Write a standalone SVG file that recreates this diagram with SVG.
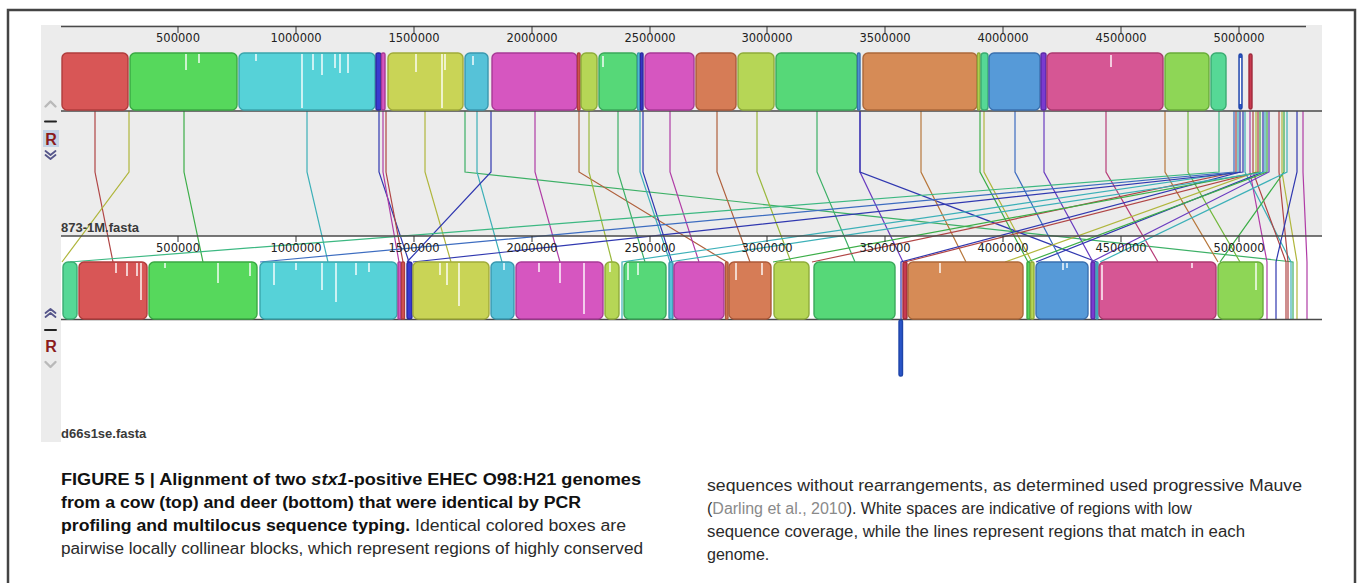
<svg xmlns="http://www.w3.org/2000/svg" width="1360" height="583" viewBox="0 0 1360 583">
  <style>
    .ax { stroke: #4a4a4a; stroke-width: 1.5; fill: none; }
    .tick { stroke: #333; stroke-width: 1; }
    .tl { font-family: "DejaVu Sans", sans-serif; font-size: 11.5px; fill: #222; text-anchor: middle; }
    .name { font-family: "Liberation Sans", Arial, sans-serif; font-size: 13px; font-weight: bold; fill: #3a3a3a; }
    .blk { stroke-width: 1.4; }
    .wht { stroke: #ffffff; stroke-width: 1.4; }
    .cap { font-family: "Liberation Sans", Arial, sans-serif; font-size: 16px; fill: #2a2a2a; }
    .b { font-weight: bold; fill: #111; }
    .lnk { fill: #8a8a8a; }
    #connectors path { fill: none; stroke-width: 1.2; }
    .red { fill: #d85656; stroke: #b03c3c; }
    .grn { fill: #56d85c; stroke: #3aa843; }
    .cyn { fill: #56d2d8; stroke: #3aa5ac; }
    .olv { fill: #c9d456; stroke: #a0aa3a; }
    .cy2 { fill: #56c2d8; stroke: #3a98ae; }
    .mag { fill: #d656c0; stroke: #a83a96; }
    .lim { fill: #b6d656; stroke: #8eac3a; }
    .gr2 { fill: #56d878; stroke: #3aa85a; }
    .brn { fill: #d67c56; stroke: #ac5a3a; }
    .org { fill: #d68b56; stroke: #ac683a; }
    .blu { fill: #569ad8; stroke: #3a70ae; }
    .pnk { fill: #d65694; stroke: #ac3a70; }
    .lgr { fill: #8ed656; stroke: #68ac3a; }
    .tgr { fill: #56d896; stroke: #3aac72; }
    .nav { fill: #3a3ad0; stroke: #2a2aa0; }
    .pur { fill: #7a3ad0; stroke: #5a2aa8; }
    .dbl { fill: #2a55c8; stroke: #1e44a8; }
    .rdk { fill: #c83a50; stroke: #a02a3c; }
    .s-red { stroke: #b04545; }
    .s-grn { stroke: #3cae48; }
    .s-cyn { stroke: #3cb0b8; }
    .s-olv { stroke: #b0b63c; }
    .s-mag { stroke: #b03ca6; }
    .s-lim { stroke: #9ab83c; }
    .s-gr2 { stroke: #3cb066; }
    .s-brn { stroke: #b0603c; }
    .s-org { stroke: #b8783c; }
    .s-blu { stroke: #3c6cc0; }
    .s-pnk { stroke: #b83c78; }
    .s-lgr { stroke: #72b83c; }
    .s-tgr { stroke: #3cb882; }
    .s-nav { stroke: #3038b0; }
    .s-pur { stroke: #6a3cc0; }
  </style>

  <!-- page background -->
  <rect x="0" y="0" width="1360" height="583" fill="#ffffff"/>

  <!-- panel backgrounds -->
  <rect x="41" y="25" width="1281" height="211" fill="#ececec"/>
  <rect x="41" y="236" width="20" height="206" fill="#ececec"/>

  <!-- genome 1 axis -->
  <g id="axis-top">
    <line class="ax" x1="61" y1="26.5" x2="1306" y2="26.5"/>
    <g class="tick">
      <line x1="178" y1="26" x2="178" y2="33"/><line x1="296" y1="26" x2="296" y2="33"/>
      <line x1="414" y1="26" x2="414" y2="33"/><line x1="532" y1="26" x2="532" y2="33"/>
      <line x1="650" y1="26" x2="650" y2="33"/><line x1="767" y1="26" x2="767" y2="33"/>
      <line x1="885" y1="26" x2="885" y2="33"/><line x1="1003" y1="26" x2="1003" y2="33"/>
      <line x1="1121" y1="26" x2="1121" y2="33"/><line x1="1239" y1="26" x2="1239" y2="33"/>
    </g>
    <text class="tl" x="178" y="42">500000</text><text class="tl" x="296" y="42">1000000</text>
    <text class="tl" x="414" y="42">1500000</text><text class="tl" x="532" y="42">2000000</text>
    <text class="tl" x="650" y="42">2500000</text><text class="tl" x="767" y="42">3000000</text>
    <text class="tl" x="885" y="42">3500000</text><text class="tl" x="1003" y="42">4000000</text>
    <text class="tl" x="1121" y="42">4500000</text><text class="tl" x="1239" y="42">5000000</text>
  </g>

  <!-- connectors between collinear blocks -->
  <g id="connectors">
    <path class="s-red" d="M95 111V172L113 262"/>
    <path class="s-olv" d="M129 111V172L62 262"/>
    <path class="s-grn" d="M184 111V172L203 262"/>
    <path class="s-cyn" d="M307 111V172L328 262"/>
    <path class="s-nav" d="M379 111V172L409 262"/>
    <path class="s-mag" d="M383 111V172L399 262"/>
    <path class="s-red" d="M386 111V172L403 262"/>
    <path class="s-olv" d="M425 111V172L451 262"/>
    <path class="s-gr2" d="M465 111V172L1293 262V319"/>
    <path class="s-cyn" d="M477 111V172L502 262"/>
    <path class="s-nav" d="M491 111V172L407 262"/>
    <path class="s-mag" d="M535 111V172L560 262"/>
    <path class="s-brn" d="M579 111V172L727 262"/>
    <path class="s-lim" d="M589 111V172L612 262"/>
    <path class="s-gr2" d="M618 111V172L645 262"/>
    <path class="s-cyn" d="M640 111V172L670 262"/>
    <path class="s-nav" d="M643 111V172L672 262"/>
    <path class="s-mag" d="M670 111V172L699 262"/>
    <path class="s-brn" d="M717 111V172L750 262"/>
    <path class="s-lim" d="M757 111V172L791 262"/>
    <path class="s-gr2" d="M817 111V172L855 262"/>
    <path class="s-pur" d="M860 111V172L903 262"/>
    <path class="s-nav" d="M860 111V172L1097 262"/>
    <path class="s-org" d="M921 111V172L966 262"/>
    <path class="s-grn" d="M980 111V172L1028 262"/>
    <path class="s-olv" d="M984 111V172L1032 262"/>
    <path class="s-blu" d="M1015 111V172L1062 262"/>
    <path class="s-pur" d="M1044 111V172L1093 262"/>
    <path class="s-pnk" d="M1106 111V172L1158 262"/>
    <path class="s-org" d="M1165 111V172L1218 262"/>
    <path class="s-lgr" d="M1188 111V172L1240 262"/>
    <path class="s-tgr" d="M1219 111V172L70 262"/>
    <path class="s-blu" d="M1234 111V172L260 262"/>
    <path class="s-red" d="M1236 111V172L812 262"/>
    <path class="s-cyn" d="M1238 111V172L622 262V319"/>
    <path class="s-nav" d="M1240 111V172L901 262V319"/>
    <path class="s-nav" d="M1243 111V172L413 262"/>
    <path class="s-cyn" d="M1245 111V172L1291 262V319"/>
    <path class="s-mag" d="M1250 111V172L1267 262V319"/>
    <path class="s-red" d="M1253 111V172L1286 262V319"/>
    <path class="s-olv" d="M1256 111V172L1005 262"/>
    <path class="s-red" d="M1258 111V172L905 262"/>
    <path class="s-grn" d="M1260 111V172L773 262"/>
    <path class="s-nav" d="M1263 111V172L1036 262"/>
    <path class="s-cyn" d="M1265 111V172L669 262"/>
    <path class="s-grn" d="M1267 111V172L1027 262"/>
    <path class="s-pur" d="M1269 111V172L1091 262"/>
    <path class="s-red" d="M1279 111V172L1288 262V319"/>
    <path class="s-olv" d="M1282 111V172L1297 262V319"/>
    <path class="s-grn" d="M1284 111V172L1220 262"/>
    <path class="s-cyn" d="M1287 111V172L1100 262"/>
    <path class="s-nav" d="M1297 111V172L1276 262V319"/>
    <path class="s-mag" d="M1303 111V172L1307 262V319"/>
  </g>

  <!-- genome 1 blocks -->
  <g id="genome-873-1M">
    <line class="ax" x1="61" y1="111" x2="1322" y2="111"/>
    <rect class="blk red" x="62" y="53" width="66" height="57" rx="5"/>
    <rect class="blk grn" x="130" y="53" width="107" height="57" rx="5"/>
    <rect class="blk cyn" x="239" y="53" width="136" height="57" rx="5"/>
    <rect class="blk nav" x="376" y="53" width="5" height="57" rx="2"/>
    <rect class="blk mag" x="381.5" y="53" width="3.5" height="57" rx="1.5"/>
    <rect class="blk olv" x="388" y="53" width="75" height="57" rx="5"/>
    <rect class="blk cy2" x="465" y="53" width="23" height="57" rx="5"/>
    <rect class="blk mag" x="492" y="53" width="85" height="57" rx="5"/>
    <rect class="blk red" x="577.5" y="53" width="2.5" height="57" rx="1"/>
    <rect class="blk lim" x="581" y="53" width="16" height="57" rx="5"/>
    <rect class="blk gr2" x="599" y="53" width="38" height="57" rx="5"/>
    <rect class="blk cy2" x="637.5" y="53" width="2.5" height="57" rx="1"/>
    <rect class="blk nav" x="640.5" y="53" width="2.5" height="57" rx="1"/>
    <rect class="blk mag" x="645" y="53" width="49" height="57" rx="5"/>
    <rect class="blk brn" x="696" y="53" width="40" height="57" rx="5"/>
    <rect class="blk lim" x="738" y="53" width="36" height="57" rx="5"/>
    <rect class="blk gr2" x="776" y="53" width="81" height="57" rx="5"/>
    <rect class="blk blu" x="857.5" y="53" width="2.5" height="57" rx="1"/>
    <rect class="blk org" x="863" y="53" width="114" height="57" rx="5"/>
    <rect class="blk lim" x="977.5" y="53" width="2.5" height="57" rx="1"/>
    <rect class="blk tgr" x="981" y="53" width="7" height="57" rx="3"/>
    <rect class="blk blu" x="989" y="53" width="51" height="57" rx="5"/>
    <rect class="blk pur" x="1041" y="53" width="5" height="57" rx="2"/>
    <rect class="blk pnk" x="1047" y="53" width="116" height="57" rx="5"/>
    <rect class="blk lgr" x="1165" y="53" width="44" height="57" rx="5"/>
    <rect class="blk tgr" x="1211" y="53" width="15" height="57" rx="5"/>
    <rect class="blk dbl" x="1239" y="54" width="3" height="55" rx="1.5"/>
    <rect class="blk rdk" x="1249" y="54" width="3" height="55" rx="1.5"/>
    <g class="wht">
      <line x1="186" y1="54" x2="186" y2="70"/><line x1="199" y1="54" x2="199" y2="63"/>
      <line x1="256" y1="54" x2="256" y2="61"/><line x1="302" y1="54" x2="302" y2="108"/>
      <line x1="313" y1="54" x2="313" y2="70"/><line x1="322" y1="54" x2="322" y2="75"/>
      <line x1="335" y1="54" x2="335" y2="68"/><line x1="340" y1="54" x2="340" y2="73"/>
      <line x1="348" y1="54" x2="348" y2="73"/><line x1="416" y1="54" x2="416" y2="72"/>
      <line x1="442" y1="54" x2="442" y2="108"/><line x1="445" y1="54" x2="445" y2="70"/>
      <line x1="473" y1="56" x2="473" y2="65"/><line x1="603" y1="56" x2="603" y2="67"/>
      <line x1="1111" y1="55" x2="1111" y2="67"/><line x1="1240.5" y1="58" x2="1240.5" y2="104"/>
    </g>
  </g>

  <!-- genome 2 axis -->
  <g id="axis-bottom">
    <line class="ax" x1="61" y1="236" x2="1322" y2="236"/>
    <g class="tick">
      <line x1="178" y1="236" x2="178" y2="242"/><line x1="296" y1="236" x2="296" y2="242"/>
      <line x1="414" y1="236" x2="414" y2="242"/><line x1="532" y1="236" x2="532" y2="242"/>
      <line x1="650" y1="236" x2="650" y2="242"/><line x1="767" y1="236" x2="767" y2="242"/>
      <line x1="885" y1="236" x2="885" y2="242"/><line x1="1003" y1="236" x2="1003" y2="242"/>
      <line x1="1121" y1="236" x2="1121" y2="242"/><line x1="1239" y1="236" x2="1239" y2="242"/>
    </g>
    <text class="tl" x="178" y="252">500000</text><text class="tl" x="296" y="252">1000000</text>
    <text class="tl" x="414" y="252">1500000</text><text class="tl" x="532" y="252">2000000</text>
    <text class="tl" x="650" y="252">2500000</text><text class="tl" x="767" y="252">3000000</text>
    <text class="tl" x="885" y="252">3500000</text><text class="tl" x="1003" y="252">4000000</text>
    <text class="tl" x="1121" y="252">4500000</text><text class="tl" x="1239" y="252">5000000</text>
  </g>

  <!-- genome 2 blocks -->
  <g id="genome-d66s1se">
    <line class="ax" x1="61" y1="319.5" x2="1322" y2="319.5"/>
    <rect class="blk tgr" x="63" y="262" width="14" height="57" rx="5"/>
    <rect class="blk red" x="79" y="262" width="68" height="57" rx="5"/>
    <rect class="blk grn" x="149" y="262" width="108" height="57" rx="5"/>
    <rect class="blk cyn" x="260" y="262" width="137" height="57" rx="5"/>
    <rect class="blk mag" x="398" y="262" width="3" height="57" rx="1"/>
    <rect class="blk red" x="401.5" y="262" width="3" height="57" rx="1"/>
    <rect class="blk nav" x="407" y="262" width="5" height="57" rx="2.5"/>
    <rect class="blk olv" x="413" y="262" width="76" height="57" rx="5"/>
    <rect class="blk cy2" x="491" y="262" width="23" height="57" rx="5"/>
    <rect class="blk mag" x="516" y="262" width="87" height="57" rx="5"/>
    <rect class="blk lim" x="605" y="262" width="14" height="57" rx="5"/>
    <rect class="blk gr2" x="624" y="262" width="42" height="57" rx="5"/>
    <rect class="blk cy2" x="669" y="262" width="4" height="57" rx="2"/>
    <rect class="blk mag" x="674" y="262" width="50" height="57" rx="5"/>
    <rect class="blk brn" x="725.5" y="262" width="2.5" height="57" rx="1"/>
    <rect class="blk brn" x="729" y="262" width="42" height="57" rx="5"/>
    <rect class="blk lim" x="774" y="262" width="35" height="57" rx="5"/>
    <rect class="blk gr2" x="814" y="262" width="81" height="57" rx="5"/>
    <rect class="blk dbl" x="899" y="320" width="3.5" height="56" rx="1.5"/>
    <rect class="blk rdk" x="903" y="262" width="4" height="57" rx="2"/>
    <rect class="blk org" x="908" y="262" width="115" height="57" rx="5"/>
    <rect class="blk grn" x="1027" y="262" width="3" height="57" rx="1"/>
    <rect class="blk lim" x="1030.5" y="262" width="3.5" height="57" rx="1.5"/>
    <rect class="blk blu" x="1036" y="262" width="52" height="57" rx="5"/>
    <rect class="blk pur" x="1091" y="262" width="4" height="57" rx="2"/>
    <rect class="blk cy2" x="1096" y="262" width="2" height="57" rx="1"/>
    <rect class="blk pnk" x="1099" y="262" width="117" height="57" rx="5"/>
    <rect class="blk lgr" x="1218" y="262" width="45" height="57" rx="5"/>
    <g class="wht">
      <line x1="116" y1="263" x2="116" y2="273"/><line x1="127" y1="263" x2="127" y2="276"/>
      <line x1="137" y1="263" x2="137" y2="276"/><line x1="141" y1="263" x2="141" y2="300"/>
      <line x1="165" y1="263" x2="165" y2="268"/><line x1="218" y1="263" x2="218" y2="283"/>
      <line x1="250" y1="263" x2="250" y2="276"/><line x1="274" y1="263" x2="274" y2="285"/>
      <line x1="296" y1="263" x2="296" y2="270"/><line x1="322" y1="263" x2="322" y2="290"/>
      <line x1="336" y1="263" x2="336" y2="302"/><line x1="356" y1="263" x2="356" y2="275"/>
      <line x1="369" y1="263" x2="369" y2="272"/><line x1="440" y1="263" x2="440" y2="275"/>
      <line x1="447" y1="263" x2="447" y2="285"/><line x1="459" y1="263" x2="459" y2="306"/>
      <line x1="504" y1="263" x2="504" y2="270"/><line x1="539" y1="263" x2="539" y2="272"/>
      <line x1="560" y1="263" x2="560" y2="283"/><line x1="584" y1="263" x2="584" y2="314"/>
      <line x1="610" y1="263" x2="610" y2="272"/><line x1="628" y1="263" x2="628" y2="280"/>
      <line x1="638" y1="263" x2="638" y2="275"/><line x1="736" y1="263" x2="736" y2="280"/>
      <line x1="762" y1="263" x2="762" y2="275"/><line x1="940" y1="263" x2="940" y2="273"/>
      <line x1="1063" y1="263" x2="1063" y2="270"/><line x1="1067" y1="263" x2="1067" y2="268"/>
      <line x1="1102" y1="265" x2="1102" y2="300"/><line x1="1192" y1="263" x2="1192" y2="268"/>
      <line x1="1256" y1="263" x2="1256" y2="290"/>
    </g>
  </g>

  <!-- sequence names -->
  <text class="name" x="61" y="232">873-1M.fasta</text>
  <text class="name" x="61" y="438">d66s1se.fasta</text>

  <!-- panel controls, genome 1 -->
  <g id="controls-top" fill="none" stroke-linecap="round" stroke-linejoin="round">
    <polyline points="45.5,106.5 50.5,101.5 55.5,106.5" stroke="#b9b9b9" stroke-width="2.4"/>
    <line x1="45" y1="121.5" x2="56" y2="121.5" stroke="#222" stroke-width="2"/>
    <rect x="43" y="130" width="16" height="17" fill="#c3d3e6" stroke="none"/>
    <text x="51" y="145" text-anchor="middle" font-family="Liberation Sans, Arial, sans-serif" font-size="16" font-weight="bold" fill="#8b1c1c" stroke="none">R</text>
    <polyline points="45.5,151 50.5,155 55.5,151" stroke="#55558a" stroke-width="1.8"/>
    <polyline points="45.5,155 50.5,159 55.5,155" stroke="#55558a" stroke-width="1.8"/>
  </g>

  <!-- panel controls, genome 2 -->
  <g id="controls-bottom" fill="none" stroke-linecap="round" stroke-linejoin="round">
    <polyline points="45.5,313 50.5,309 55.5,313" stroke="#55558a" stroke-width="1.8"/>
    <polyline points="45.5,317 50.5,313 55.5,317" stroke="#55558a" stroke-width="1.8"/>
    <line x1="45" y1="330" x2="56" y2="330" stroke="#222" stroke-width="2"/>
    <text x="51" y="352" text-anchor="middle" font-family="Liberation Sans, Arial, sans-serif" font-size="16" font-weight="bold" fill="#8b1c1c" stroke="none">R</text>
    <polyline points="45.5,362 50.5,367 55.5,362" stroke="#b9b9b9" stroke-width="2.4"/>
  </g>

  <!-- caption -->
  <g id="caption">
    <text class="cap b" x="61" y="485" textLength="580" lengthAdjust="spacingAndGlyphs">FIGURE 5 | Alignment of two <tspan font-style="italic">stx1</tspan>-positive EHEC O98:H21 genomes</text>
    <text class="cap b" x="61" y="508" textLength="520" lengthAdjust="spacingAndGlyphs">from a cow (top) and deer (bottom) that were identical by PCR</text>
    <text class="cap" x="61" y="531" textLength="565" lengthAdjust="spacingAndGlyphs"><tspan class="b">profiling and multilocus sequence typing.</tspan> Identical colored boxes are</text>
    <text class="cap" x="61" y="554" textLength="582" lengthAdjust="spacingAndGlyphs">pairwise locally collinear blocks, which represent regions of highly conserved</text>
    <text class="cap" x="707" y="491" textLength="595" lengthAdjust="spacingAndGlyphs">sequences without rearrangements, as determined used progressive Mauve</text>
    <text class="cap" x="707" y="514">(<tspan class="lnk">Darling et al., 2010</tspan>). White spaces are indicative of regions with low</text>
    <text class="cap" x="707" y="537" textLength="538" lengthAdjust="spacingAndGlyphs">sequence coverage, while the lines represent regions that match in each</text>
    <text class="cap" x="707" y="560">genome.</text>
  </g>

  <!-- outer frame, drawn last so nothing covers it -->
  <rect x="8" y="10" width="1347" height="620" fill="none" stroke="#444444" stroke-width="2.5"/>
</svg>
